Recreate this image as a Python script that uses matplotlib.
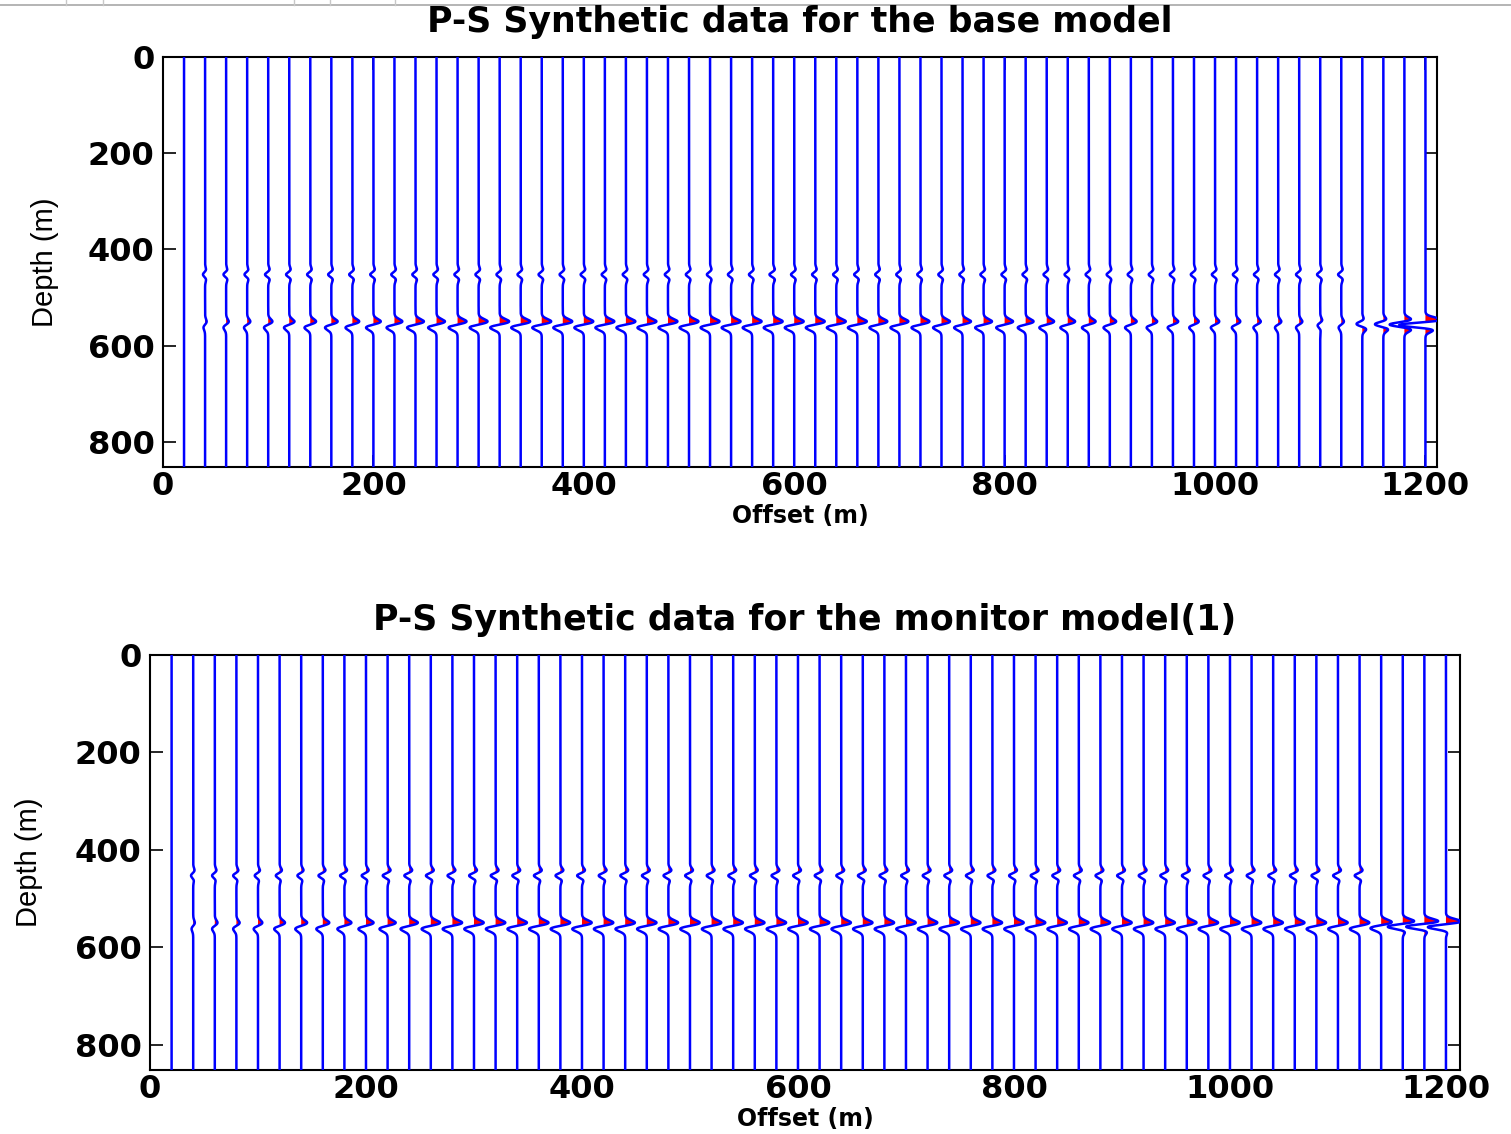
import numpy as np
import matplotlib
matplotlib.use("Agg")
import matplotlib.pyplot as plt
from matplotlib.lines import Line2D

# ---- data -------------------------------------------------------------
OFFSETS = list(range(20, 1201, 20))          # receiver offsets (m), 60 traces
XTICKS = [0, 200, 400, 600, 800, 1000, 1200]
YTICKS = [0, 200, 400, 600, 800]
DEPTH_MAX = 852.0

# reflector depths (m)
Z_TOP = 452.0
Z_BOT = 556.0

# base model: shallow reflector amplitude (trace-width units, m)
AMP1_BASE = [0, 2.0, 2.5, 2.5, 3.0, 3.0, 3.0, 3.0, 3.0, 3.0,
             3.0, 3.0, 3.0, 3.0, 3.0, 3.0, 3.0, 3.0, 3.0, 3.0,
             3.0, 3.0, 3.0, 3.0, 3.0, 3.0, 3.0, 3.0, 3.5, 3.0,
             3.0, 3.0, 3.0, 3.0, 3.0, 3.0, 3.0, 3.0, 3.0, 3.0,
             3.0, 3.0, 3.0, 3.0, 3.0, 3.0, 3.0, 3.0, 3.0, 3.0,
             3.0, 3.0, 3.0, 3.0, 3.0, 3.0, 0, 0, 0, 0]
# base model: deep reflector amplitude and wavelet phase (deg)
AMP2_BASE = [0, 1.5, 2.5, 3.0, 4.0, 5.0, 5.5, 6.0, 6.5, 7.0,
             7.5, 8.0, 8.0, 8.5, 8.5, 9.0, 9.0, 9.0, 9.0, 9.0,
             9.0, 9.0, 9.0, 9.0, 9.0, 9.0, 9.0, 9.0, 9.0, 9.0,
             9.0, 9.0, 9.0, 8.5, 8.5, 8.5, 8.0, 8.0, 8.0, 8.0,
             7.5, 7.0, 7.0, 6.5, 6.0, 5.5, 5.0, 5.0, 4.5, 4.0,
             4.0, 3.5, 3.0, 3.0, 2.5, 2.5, 5.5, 8.0, 14.0, 25.0]
PHASE2_BASE = [90] * 54 + [150, 90, 200, 190, 180, 165]

# monitor model
AMP1_MON = [0, 2.0, 2.5, 3.0, 3.0, 3.5, 3.5, 4.0, 4.0, 4.0,
            4.5, 4.5, 4.5, 4.5, 4.5, 4.5, 4.5, 4.5, 4.5, 4.5,
            4.5, 4.5, 4.5, 4.5, 4.5, 4.5, 4.5, 4.5, 4.5, 4.5,
            4.5, 4.5, 4.5, 4.5, 4.5, 4.5, 4.5, 4.5, 4.5, 4.5,
            4.5, 4.5, 4.5, 4.5, 4.5, 4.5, 4.5, 4.5, 4.5, 4.5,
            4.5, 4.5, 4.5, 4.5, 4.5, 4.5, 0, 0, 0, 0]
AMP2_MON = [0, 1.5, 2.5, 3.0, 4.0, 5.0, 5.5, 6.0, 6.5, 7.0,
            7.5, 8.0, 8.5, 9.0, 9.0, 9.0, 9.0, 9.0, 9.0, 9.0,
            9.0, 9.0, 9.0, 9.0, 9.0, 9.0, 9.0, 9.0, 9.0, 9.0,
            9.0, 9.0, 9.0, 9.0, 9.0, 9.0, 9.0, 9.0, 9.0, 9.0,
            9.0, 9.0, 9.0, 9.0, 9.0, 9.0, 9.0, 9.0, 9.0, 9.0,
            9.0, 9.0, 9.0, 9.0, 9.0, 9.0, 10.0, 14.0, 17.0, 17.0]
PHASE2_MON = [90] * 56 + [110, 150, 150, 140]
PHASE1 = 180
PHASE1_MON = 165

TITLES = ["P-S Synthetic data for the base model",
          "P-S Synthetic data for the monitor model(1)"]

SIGMA = 6.5
z = np.linspace(0.0, DEPTH_MAX, 3409)


def wavelet(u, phase_deg):
    """Phase-rotated Gaussian wavelet with unit peak."""
    g = np.exp(-u ** 2 / (2 * SIGMA ** 2))
    ricker = (1 - (u / SIGMA) ** 2) * g
    deriv = -(u / SIGMA) * g * np.exp(0.5)
    ph = np.deg2rad(phase_deg)
    return np.cos(ph) * ricker + np.sin(ph) * deriv


def draw_panel(ax, amp1, phase1, amp2, phase2, xmax):
    for i, off in enumerate(OFFSETS):
        tr = (amp1[i] * wavelet(z - Z_TOP, phase1)
              + amp2[i] * wavelet(z - Z_BOT, phase2[i]))
        x = off + tr
        ax.fill_betweenx(z, off, x, where=tr > 0, interpolate=True,
                         color="#ff0000", lw=0, zorder=2)
        ax.plot(x, z, color="#0000ff", lw=1.8, zorder=3)
    ax.set_xlim(0, xmax)
    ax.set_ylim(DEPTH_MAX, 0)
    ax.set_xticks(XTICKS)
    ax.set_yticks(YTICKS)
    ax.tick_params(direction="in", length=9, width=1.2, top=True,
                   right=True, labelsize=23, colors="black")
    ax.tick_params(axis="x", pad=3)
    ax.tick_params(axis="y", pad=6)
    for lab in ax.get_xticklabels() + ax.get_yticklabels():
        lab.set_fontweight("bold")
    for sp in ax.spines.values():
        sp.set_linewidth(1.5)
        sp.set_color("black")


plt.rcParams["font.family"] = ["DejaVu Sans"]
W, H = 1511, 1134
fig = plt.figure(figsize=(W / 100, H / 100), dpi=100)


def fx(px):
    return px / W


def fy(py):
    return 1 - py / H


ax1 = fig.add_axes([fx(163), fy(467), fx(1437 - 163), (467 - 57) / H])
ax2 = fig.add_axes([fx(150), fy(1070), fx(1460 - 150), (1070 - 655) / H])

draw_panel(ax1, AMP1_BASE, PHASE1, AMP2_BASE, PHASE2_BASE, 1211)
draw_panel(ax2, AMP1_MON, PHASE1_MON, AMP2_MON, PHASE2_MON, 1213)

# titles
fig.text(fx(800), fy(32), TITLES[0], ha="center", va="baseline",
         fontsize=25, fontweight="bold")
fig.text(fx(805), fy(630), TITLES[1], ha="center", va="baseline",
         fontsize=25, fontweight="bold")

# axis labels
fig.text(fx(800), fy(523), "Offset (m)", ha="center", va="baseline",
         fontsize=17, fontweight="bold")
fig.text(fx(805), fy(1126), "Offset (m)", ha="center", va="baseline",
         fontsize=17, fontweight="bold")
fig.text(fx(45), fy(262), "Depth (m)", ha="center", va="center",
         rotation=90, fontsize=21, family="Liberation Sans")
fig.text(fx(29), fy(862), "Depth (m)", ha="center", va="center",
         rotation=90, fontsize=21, family="Liberation Sans")

# thin toolbar rule along the top edge
fig.add_artist(Line2D([0, 1], [fy(4.5), fy(4.5)], transform=fig.transFigure,
                      color="#a8a8a8", lw=1.2))
for px in [66, 103, 294, 330, 395]:
    fig.add_artist(Line2D([fx(px), fx(px)], [1.0, fy(4.5)],
                          transform=fig.transFigure, color="#c8c8c8", lw=1.0))

fig.savefig("out.png", dpi=100, facecolor="white")
